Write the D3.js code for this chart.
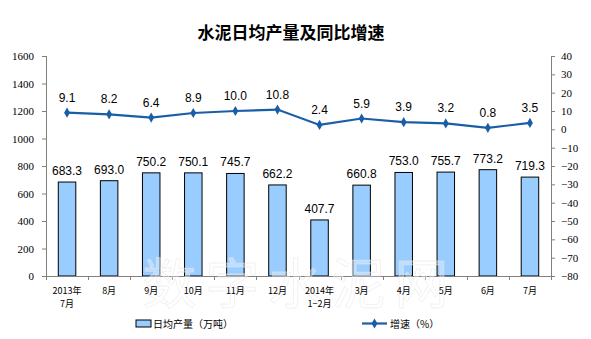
<!DOCTYPE html>
<html>
<head>
<meta charset="utf-8">
<script src="https://cdn.jsdelivr.net/npm/d3@7"></script>
<style>
  html, body { margin: 0; padding: 0; background: #fff; }
  svg { display: block; }
</style>
</head>
<body>
<svg id="chart" width="591" height="339"></svg>
<script>
// Monthly labels (two lines where a year is shown)
const categories = [
  ["2013年", "7月"], ["8月"], ["9月"], ["10月"], ["11月"], ["12月"],
  ["2014年", "1−2月"], ["3月"], ["4月"], ["5月"], ["6月"], ["7月"]
];
// Daily average output (10k tonnes)
const output = [683.3, 693.0, 750.2, 750.1, 745.7, 662.2, 407.7, 660.8, 753.0, 755.7, 773.2, 719.3];
// Year-on-year growth (%)
const growth = [9.1, 8.2, 6.4, 8.9, 10.0, 10.8, 2.4, 5.9, 3.9, 3.2, 0.8, 3.5];
const leftTicks = [0, 200, 400, 600, 800, 1000, 1200, 1400, 1600];
const rightTicks = [-80, -70, -60, -50, -40, -30, -20, -10, 0, 10, 20, 30, 40];

const svg = d3.select("#chart");
const plotL = 46, plotR = 551, plotT = 56, plotB = 276;

const x = d3.scaleBand().domain(d3.range(categories.length)).range([plotL, plotR]).paddingInner(0).paddingOuter(0);
const yL = d3.scaleLinear().domain([0, 1600]).range([plotB, plotT]);
const yR = d3.scaleLinear().domain([-80, 40]).range([plotB, plotT]);

// Title
svg.append("text")
  .attr("x", 291).attr("y", 39)
  .attr("text-anchor", "middle")
  .attr("font-family", "Noto Sans CJK SC")
  .attr("font-weight", "bold")
  .attr("font-size", 17)
  .attr("fill", "#000")
  .text("水泥日均产量及同比增速");

// Bars
const bw = 17.5;
svg.append("g").selectAll("rect").data(output).join("rect")
  .attr("x", (d, i) => x(i) + x.bandwidth() / 2 - bw / 2)
  .attr("y", d => yL(d))
  .attr("width", bw)
  .attr("height", d => yL(0) - yL(d))
  .attr("fill", "#99ccff")
  .attr("stroke", "#000")
  .attr("stroke-width", 1);

// Bar value labels
svg.append("g").selectAll("text").data(output).join("text")
  .attr("x", (d, i) => x(i) + x.bandwidth() / 2)
  .attr("y", d => yL(d) - 7)
  .attr("text-anchor", "middle")
  .attr("font-family", "Liberation Sans, Arial")
  .attr("font-size", 12)
  .attr("fill", "#000")
  .text(d => d.toFixed(1));

// Axes
const axisColor = "#808080";
const gL = svg.append("g").attr("transform", `translate(${plotL},0)`)
  .call(d3.axisLeft(yL).tickValues(leftTicks).tickSize(4).tickPadding(8).tickFormat(d3.format("d")));
const gR = svg.append("g").attr("transform", `translate(${plotR},0)`)
  .call(d3.axisRight(yR).tickValues(rightTicks).tickSize(4).tickPadding(6).tickFormat(d3.format("d")));
[gL, gR].forEach(g => {
  g.select(".domain").remove();
  g.selectAll(".tick line").attr("stroke", axisColor);
  g.selectAll(".tick text")
    .attr("font-family", "Liberation Serif, Times New Roman")
    .attr("font-size", 11)
    .attr("fill", "#000");
});
svg.append("line").attr("x1", plotL + 0.5).attr("x2", plotL + 0.5).attr("y1", plotT).attr("y2", plotB).attr("stroke", axisColor);
svg.append("line").attr("x1", plotR + 0.5).attr("x2", plotR + 0.5).attr("y1", plotT).attr("y2", plotB).attr("stroke", axisColor);

// X axis line and category boundary ticks
svg.append("line").attr("x1", plotL).attr("x2", plotR).attr("y1", plotB + 0.5).attr("y2", plotB + 0.5).attr("stroke", axisColor);
svg.append("g").selectAll("line").data(d3.range(categories.length + 1)).join("line")
  .attr("x1", i => Math.round(plotL + i * x.step()) + 0.5)
  .attr("x2", i => Math.round(plotL + i * x.step()) + 0.5)
  .attr("y1", plotB).attr("y2", plotB + 4)
  .attr("stroke", axisColor);

// Site watermark, faint, laid over the lower part of the plot
svg.append("text")
  .attr("x", 300).attr("y", 304)
  .attr("text-anchor", "middle")
  .attr("font-family", "Noto Sans CJK SC")
  .attr("font-size", 54)
  .attr("letter-spacing", 9)
  .attr("fill", "#ffffff")
  .attr("fill-opacity", 0.35)
  .attr("stroke", "#e6e6e6")
  .attr("stroke-width", 0.8)
  .attr("stroke-opacity", 0.6)
  .text("数字水泥网");

// Category labels
const xl = svg.append("g").selectAll("text").data(categories).join("text")
  .attr("text-anchor", "middle")
  .attr("font-family", "Noto Sans CJK SC")
  .attr("font-size", 9)
  .attr("fill", "#000");
xl.each(function(d, i) {
  const t = d3.select(this);
  d.forEach((line, k) => {
    t.append("tspan")
      .attr("x", x(i) + x.bandwidth() / 2)
      .attr("y", 294 + k * 13)
      .text(line);
  });
});

// Growth line
const lineColor = "#1a5ea8";
const lineGen = d3.line().x((d, i) => x(i) + x.bandwidth() / 2).y(d => yR(d));
svg.append("path").datum(growth)
  .attr("d", lineGen)
  .attr("fill", "none")
  .attr("stroke", lineColor)
  .attr("stroke-width", 2.2);
const diamond = d3.symbol().type(d3.symbolDiamond).size(30);
svg.append("g").selectAll("path").data(growth).join("path")
  .attr("transform", (d, i) => `translate(${x(i) + x.bandwidth() / 2},${yR(d)})`)
  .attr("d", diamond)
  .attr("fill", lineColor);
svg.append("g").selectAll("text").data(growth).join("text")
  .attr("x", (d, i) => x(i) + x.bandwidth() / 2)
  .attr("y", d => yR(d) - 11)
  .attr("text-anchor", "middle")
  .attr("font-family", "Liberation Sans, Arial")
  .attr("font-size", 12)
  .attr("fill", "#000")
  .text(d => d.toFixed(1));

// Legend
const lg = svg.append("g");
lg.append("rect").attr("x", 136).attr("y", 320).attr("width", 15).attr("height", 7)
  .attr("fill", "#99ccff").attr("stroke", "#000");
lg.append("text").attr("x", 153).attr("y", 328)
  .attr("font-family", "Noto Sans CJK SC").attr("font-size", 10).attr("fill", "#000")
  .text("日均产量（万吨）");
lg.append("line").attr("x1", 362).attr("x2", 387).attr("y1", 323.5).attr("y2", 323.5)
  .attr("stroke", lineColor).attr("stroke-width", 2.2);
lg.append("path").attr("transform", "translate(374.5,323.5)").attr("d", diamond).attr("fill", lineColor);
lg.append("text").attr("x", 390).attr("y", 328)
  .attr("font-family", "Noto Sans CJK SC").attr("font-size", 10).attr("fill", "#000")
  .text("增速（%）");
</script>
</body>
</html>
